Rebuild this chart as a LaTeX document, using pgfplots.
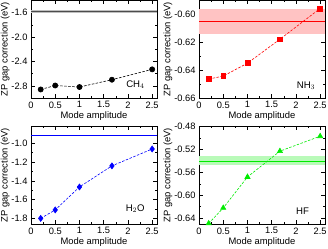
\documentclass[border=0pt]{standalone}
\usepackage{fontspec}
\setmainfont{Liberation Sans}
\usepackage{pgfplots}
\pgfplotsset{compat=1.18}
\definecolor{hfgreen}{RGB}{0,235,0}
\definecolor{hfband}{RGB}{185,250,185}
\definecolor{nhband}{RGB}{255,195,195}
\pgfplotsset{
  panel/.style={
    scale only axis, width=126pt, height=97.5pt, anchor=south west,
    xmin=0, xmax=2.6, xtick={0,0.5,1,1.5,2,2.5},
    minor x tick num=1, minor y tick num=1,
    tick align=inside, major tick length=4pt, minor tick length=2pt,
    axis line style={line width=0.8pt}, every tick/.style={black, line width=0.6pt},
    xlabel={Mode amplitude}, ylabel={ZP gap correction (eV)},
    every axis label/.append style={font=\fontsize{9.4}{11}\selectfont},
    tick label style={font=\fontsize{9.3}{11}\selectfont},
    /pgf/number format/assume math mode=true,
    yticklabel style={/pgf/number format/fixed, /pgf/number format/fixed zerofill},
    xlabel style={yshift=3pt},
    ylabel style={yshift=-5pt},
    clip=true,
  },
  dat/.style={dash pattern=on 2.5pt off 1.5pt, line width=0.6pt, mark options={solid}},
}
\begin{document}
\begin{tikzpicture}
\useasboundingbox (0,0) rectangle (328pt,248pt);
% CH4
\begin{axis}[panel, at={(31pt,150pt)}, ymin=-3.0, ymax=-1.4, ytick={-2.8,-2.4,-2.0,-1.6},
  yticklabel style={/pgf/number format/precision=1}]
\addplot[draw=none, fill=gray!50] coordinates {(0,-1.562) (2.6,-1.562) (2.6,-1.598) (0,-1.598)} -- cycle;
\addplot[gray!60!black, line width=0.9pt] coordinates {(0,-1.58) (2.6,-1.58)};
\addplot[dat, black, mark=*, mark size=2.6pt] coordinates {(0.2,-2.86) (0.5,-2.795) (1.0,-2.82) (1.67,-2.70) (2.5,-2.53)};
\node[anchor=south east, font=\fontsize{9.6}{11}\selectfont] at (rel axis cs:0.93,0.06) {CH$_4$};
\end{axis}
% NH3
\begin{axis}[panel, at={(199pt,150pt)}, ymin=-0.66, ymax=-0.59, ytick={-0.66,-0.64,-0.62,-0.60},
  yticklabel style={/pgf/number format/precision=2}]
\addplot[draw=none, fill=nhband] coordinates {(0,-0.5958) (2.6,-0.5958) (2.6,-0.6138) (0,-0.6138)} -- cycle;
\addplot[red, line width=0.8pt] coordinates {(0,-0.6048) (2.6,-0.6048)};
\addplot[dat, red, mark=square*, mark size=2.4pt] coordinates {(0.2,-0.6464) (0.5,-0.6443) (1.0,-0.635) (1.67,-0.6178) (2.5,-0.5957)};
\node[anchor=south east, font=\fontsize{9.6}{11}\selectfont] at (rel axis cs:0.95,0.05) {NH$_3$};
\end{axis}
% H2O
\begin{axis}[panel, at={(31pt,24pt)}, ymin=-1.86, ymax=-0.82, ytick={-1.8,-1.6,-1.4,-1.2,-1.0},
  yticklabel style={/pgf/number format/precision=1}]
\addplot[blue, line width=0.8pt] coordinates {(0,-0.91) (2.6,-0.91)};
\addplot[dat, blue, mark=diamond*, mark size=3pt] coordinates {(0.2,-1.80) (0.5,-1.71) (1.0,-1.465) (1.67,-1.24) (2.5,-1.06)};
\node[anchor=south east, font=\fontsize{9.6}{11}\selectfont] at (rel axis cs:0.93,0.08) {H$_2$O};
\end{axis}
% HF
\begin{axis}[panel, at={(199pt,24pt)}, ymin=-0.65, ymax=-0.48, ytick={-0.64,-0.60,-0.56,-0.52,-0.48},
  yticklabel style={/pgf/number format/precision=2}]
\addplot[draw=none, fill=hfband] coordinates {(0,-0.532) (2.6,-0.532) (2.6,-0.548) (0,-0.548)} -- cycle;
\addplot[hfgreen, line width=0.8pt] coordinates {(0,-0.54) (2.6,-0.54)};
\addplot[dat, hfgreen, mark=triangle*, mark size=3pt] coordinates {(0.2,-0.649) (0.5,-0.622) (1.0,-0.568) (1.67,-0.523) (2.5,-0.497)};
\node[anchor=south east, font=\fontsize{9.6}{11}\selectfont] at (rel axis cs:0.90,0.06) {HF};
\end{axis}
\end{tikzpicture}
\end{document}
